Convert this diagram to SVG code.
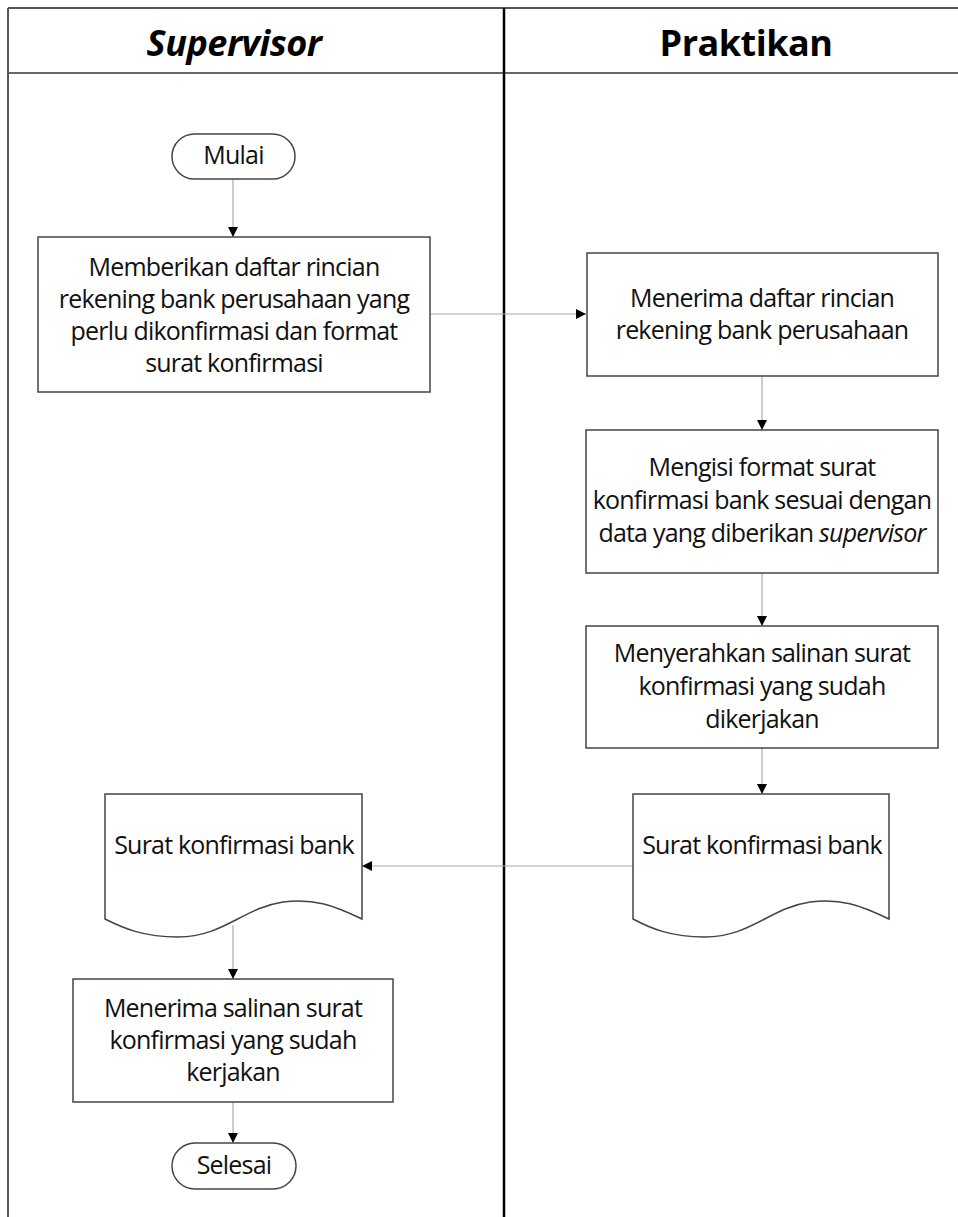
<svg xmlns="http://www.w3.org/2000/svg" width="958" height="1217" viewBox="0 0 958 1217">
<style>
.t{font-family:"Open Sans","Noto Sans",sans-serif;font-size:25px;letter-spacing:-0.8px;fill:#111;text-anchor:middle}
.h{font-family:"Open Sans","Noto Sans",sans-serif;font-size:36px;font-weight:bold;letter-spacing:-0.5px;fill:#000;text-anchor:middle}
.box{fill:#fff;stroke:#444;stroke-width:1.5}
.c{fill:none;stroke:#aaa;stroke-width:1.2}
</style>
<defs>
<marker id="a" viewBox="0 0 10 10" refX="10" refY="5" markerWidth="10" markerHeight="10" markerUnits="userSpaceOnUse" orient="auto">
<path d="M0,0 L10,5 L0,10 z" fill="#000"/>
</marker>
</defs>
<rect width="958" height="1217" fill="#fff"/>
<g id="lanes">
<line x1="8" y1="8" x2="958" y2="8" stroke="#555" stroke-width="2"/>
<line x1="8" y1="73" x2="958" y2="73" stroke="#666" stroke-width="2"/>
<line x1="8" y1="8" x2="8" y2="1217" stroke="#555" stroke-width="2"/>
<line x1="504" y1="8" x2="504" y2="1217" stroke="#000" stroke-width="2.5"/>
<text class="h" x="234" y="56" font-style="italic">Supervisor</text>
<text class="h" x="746" y="56">Praktikan</text>
</g>
<g id="connectors">
<line class="c" x1="233" y1="179" x2="233" y2="237" marker-end="url(#a)"/>
<line class="c" x1="430" y1="314" x2="586" y2="314" marker-end="url(#a)"/>
<line class="c" x1="762" y1="376" x2="762" y2="430" marker-end="url(#a)"/>
<line class="c" x1="762" y1="573" x2="762" y2="626" marker-end="url(#a)"/>
<line class="c" x1="762" y1="748" x2="762" y2="794" marker-end="url(#a)"/>
<line class="c" x1="633" y1="866" x2="362" y2="866" marker-end="url(#a)"/>
<line class="c" x1="233" y1="925" x2="233" y2="979" marker-end="url(#a)"/>
<line class="c" x1="233" y1="1102" x2="233" y2="1143" marker-end="url(#a)"/>
</g>
<g id="mulai">
<rect class="box" x="172" y="134" width="123" height="45" rx="22.5"/>
<text class="t" x="233.5" y="164">Mulai</text>
</g>
<g id="memberikan">
<rect class="box" x="38" y="237" width="392" height="155"/>
<text class="t" x="234" y="276">Memberikan daftar rincian</text>
<text class="t" x="234" y="308">rekening bank perusahaan yang</text>
<text class="t" x="234" y="340">perlu dikonfirmasi dan format</text>
<text class="t" x="234" y="372">surat konfirmasi</text>
</g>
<g id="menerima-daftar">
<rect class="box" x="587" y="253" width="351" height="123"/>
<text class="t" x="762" y="307">Menerima daftar rincian</text>
<text class="t" x="762" y="339">rekening bank perusahaan</text>
</g>
<g id="mengisi">
<rect class="box" x="586" y="430" width="352" height="143"/>
<text class="t" x="762" y="476">Mengisi format surat</text>
<text class="t" x="762" y="509">konfirmasi bank sesuai dengan</text>
<text class="t" x="762" y="542">data yang diberikan <tspan font-style="italic">supervisor</tspan></text>
</g>
<g id="menyerahkan">
<rect class="box" x="586" y="626" width="352" height="122"/>
<text class="t" x="762" y="662">Menyerahkan salinan surat</text>
<text class="t" x="762" y="695">konfirmasi yang sudah</text>
<text class="t" x="762" y="728">dikerjakan</text>
</g>
<g id="doc-praktikan">
<path class="box" d="M633,794 H889 V919 C860,905 840,898 810,902 C770,908 750,937 705,937 C670,937 650,928 633,919 Z"/>
<text class="t" x="762" y="854">Surat konfirmasi bank</text>
</g>
<g id="doc-supervisor">
<path class="box" d="M105,794 H362 V919 C333,905 313,898 283,902 C243,908 223,937 178,937 C143,937 123,928 105,919 Z"/>
<text class="t" x="234" y="854">Surat konfirmasi bank</text>
</g>
<g id="menerima-salinan">
<rect class="box" x="73" y="979" width="320" height="123"/>
<text class="t" x="233" y="1017">Menerima salinan surat</text>
<text class="t" x="233" y="1049">konfirmasi yang sudah</text>
<text class="t" x="233" y="1081">kerjakan</text>
</g>
<g id="selesai">
<rect class="box" x="172" y="1143" width="124" height="46" rx="23"/>
<text class="t" x="234" y="1174">Selesai</text>
</g>
</svg>
